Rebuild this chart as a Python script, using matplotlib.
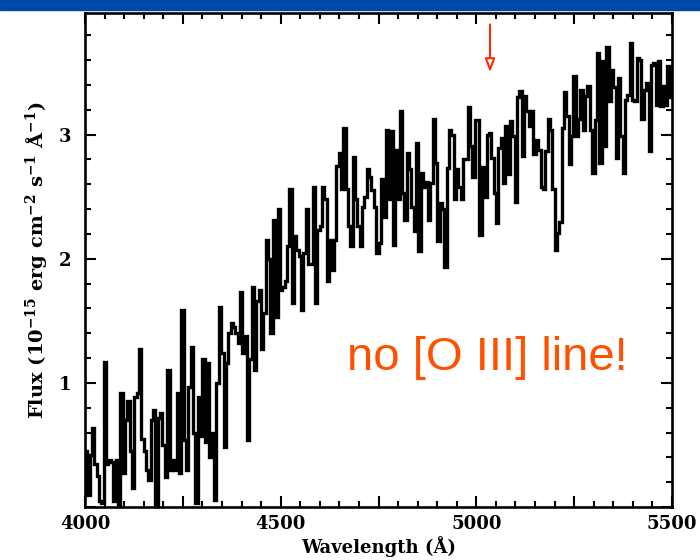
import numpy as np
import matplotlib
matplotlib.use("Agg")
import matplotlib.pyplot as plt
from matplotlib.patches import Rectangle
from matplotlib.ticker import MultipleLocator, FuncFormatter

plt.rcParams['font.family'] = ['DejaVu Serif']
plt.rcParams['font.weight'] = 'bold'
plt.rcParams['mathtext.fontset'] = 'dejavuserif'
plt.rcParams['mathtext.default'] = 'bf'

# spectrum, 6 A bins from 4000 to 5500 A
wave_start = 4000
wave_step = 6
flux = [
    # 4000-4252
    0.45, 0.10, 0.42, 0.64, 0.35, 0.25, 0.05, 0.03, 1.17, 0.35,
    0.38, 0.36, 0.05, 0.38, 0.02, 0.92, 0.27, 0.70, 0.85, 0.45,
    0.15, 0.89, 0.92, 1.27, 0.55, 0.45, 0.30, 0.22, 0.70, 0.78,
    0.02, 0.72, 0.76, 0.50, 0.24, 1.10, 0.30, 0.38, 0.30, 0.92,
    0.27, 1.59,
    # 4252-4504
    0.54, 0.30, 0.97, 1.29, 0.60, 0.03, 0.89, 0.57, 1.19, 0.52,
    1.16, 0.40, 0.60, 0.06, 1.00, 1.61, 1.24, 0.48, 1.16, 1.40,
    1.48, 1.45, 1.40, 1.32, 1.73, 1.24, 1.38, 0.54, 1.19, 1.77,
    1.10, 1.66, 1.75, 1.27, 1.56, 2.15, 2.00, 1.40, 2.31, 1.53,
    2.40, 1.75,
    # 4504-4744
    1.77, 1.82, 2.10, 2.56, 1.64, 2.18, 2.07, 2.02, 1.59, 2.05,
    2.40, 1.96, 1.96, 2.58, 1.64, 2.23, 2.26, 2.58, 2.48, 1.82,
    2.15, 1.91, 2.15, 2.75, 2.85, 2.56, 3.05, 2.56, 2.26, 2.10,
    2.82, 2.48, 2.26, 2.10, 2.42, 2.50, 2.72, 2.66, 2.55, 2.42,
    # 4744-4984
    2.05, 2.13, 2.64, 2.34, 3.04, 2.48, 3.03, 2.11, 2.88, 2.48,
    3.19, 2.53, 2.31, 2.85, 2.72, 2.42, 2.22, 2.93, 2.06, 2.69,
    2.58, 2.62, 2.31, 2.61, 3.13, 2.77, 2.14, 2.45, 2.40, 1.93,
    2.73, 3.04, 3.00, 2.48, 2.72, 2.58, 2.48, 2.80, 2.80, 3.22,
    # 4984-5242
    2.91, 2.66, 3.12, 3.12, 2.19, 2.74, 2.50, 3.00, 3.01, 2.81,
    2.53, 2.29, 2.89, 2.97, 2.61, 3.07, 2.68, 3.11, 2.99, 2.46,
    3.30, 3.35, 2.83, 3.31, 3.19, 3.07, 3.19, 2.84, 2.96, 2.88,
    2.58, 2.56, 2.87, 3.13, 3.04, 2.56, 2.07, 2.21, 2.30, 3.05,
    3.34, 3.15, 2.76,
    # 5242-5500
    2.99, 3.47, 2.99, 3.13, 3.36, 3.04, 3.31, 3.39, 3.04, 2.69,
    3.12, 3.66, 2.77, 3.59, 2.91, 3.71, 3.27, 3.52, 3.38, 2.81,
    3.46, 2.99, 2.69, 3.28, 3.32, 3.74, 3.28, 3.27, 3.62, 3.60,
    3.13, 3.36, 3.42, 2.87, 3.56, 3.58, 3.24, 3.59, 3.23, 3.39,
    3.24, 3.55, 3.30,
]
edges = wave_start + wave_step * np.arange(len(flux) + 1)

oiii_wave = 5035
arrow_top, arrow_tip = 3.91, 3.48
note = "no [O III] line!"

fig = plt.figure(figsize=(7, 5.6), dpi=100)
fig.patches.append(Rectangle((0, 1 - 10 / 560), 1, 10 / 560, transform=fig.transFigure,
                             color='#0049a8', zorder=0))
ax = fig.add_axes([85 / 700, 53 / 560, 587 / 700, 494 / 560])

ax.stairs(flux, edges, color='black', lw=2.4, baseline=None)

ax.set_xlim(4000, 5500)
ax.set_ylim(0, 3.98)

ax.xaxis.set_major_locator(MultipleLocator(250))
ax.xaxis.set_minor_locator(MultipleLocator(50))
ax.xaxis.set_major_formatter(FuncFormatter(lambda v, p: f"{v:.0f}" if v % 500 == 0 else ""))
ax.yaxis.set_major_locator(MultipleLocator(1))
ax.yaxis.set_minor_locator(MultipleLocator(0.2))
ax.yaxis.set_major_formatter(FuncFormatter(lambda v, p: f"{v:.0f}" if v > 0 else ""))

ax.tick_params(which='both', direction='in', top=True, right=True, width=1.5)
ax.tick_params(which='major', length=8, labelsize=13)
ax.tick_params(which='minor', length=4)
ax.tick_params(axis='x', pad=6)
ax.tick_params(axis='y', pad=10)
for s in ax.spines.values():
    s.set_linewidth(1.9)

ax.set_xlabel("Wavelength (Å)", fontsize=13, fontweight='bold', labelpad=2)
ax.set_ylabel(r"Flux (10$^{-15}$ erg cm$^{-2}$ s$^{-1}$ Å$^{-1}$)", fontsize=14,
              fontweight='bold', labelpad=6)

ax.annotate("", xy=(oiii_wave, arrow_tip), xytext=(oiii_wave, arrow_top),
            arrowprops=dict(arrowstyle='-|>,head_length=0.8,head_width=0.3',
                            color='#ff2a00', fc='white', lw=1.5))

ax.text(4670, 1.10, note, color='#ff5000', fontsize=34, family='Liberation Sans',
        fontweight='normal', ha='left', va='baseline')

fig.savefig("out.png", dpi=100)
